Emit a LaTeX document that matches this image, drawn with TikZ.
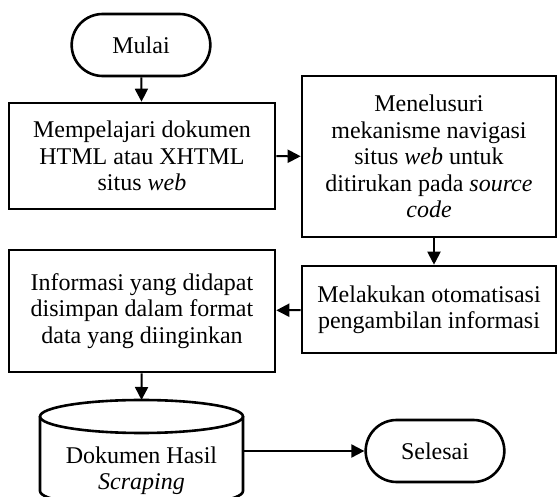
\documentclass[tikz,border=0pt]{standalone}
\usepackage{fontspec}
\setmainfont{Liberation Serif}
\usetikzlibrary{arrows.meta, shapes.geometric, shapes.misc, positioning}

\begin{document}
\begin{tikzpicture}[x=0.5pt, y=-0.5pt, >={Triangle[length=6.5pt,width=6.5pt]},
  every node/.style={font=\fontsize{12}{13.2}\selectfont},
  proc/.style={draw, line width=1.3pt, align=center, inner sep=2pt},
  term/.style={draw, rounded rectangle, line width=1.3pt, minimum width=76pt, minimum height=31pt},
  flow/.style={->, line width=1pt}]
\useasboundingbox (0,0) rectangle (558,497);
\node[term] (mulai) at (141,45) {Mulai};
\node[proc, minimum width=133pt, minimum height=53pt] (pelajari) at (142,156)
  {Mempelajari dokumen\\HTML atau XHTML\\situs \textit{web}};
\node[proc, minimum width=127pt, minimum height=80.5pt] (telusuri) at (429,156.5)
  {Menelusuri\\mekanisme navigasi\\situs \textit{web} untuk\\ditirukan pada \textit{source}\\\textit{code}};
\node[proc, minimum width=127pt, minimum height=43.5pt] (otomasi) at (429,309.5)
  {Melakukan otomatisasi\\pengambilan informasi};
\node[proc, minimum width=133pt, minimum height=61pt] (simpan) at (142,311)
  {Informasi yang didapat\\disimpan dalam format\\data yang diinginkan};
% tabung penyimpanan
\draw[line width=1.3pt] (141.5,416.5) ellipse[x radius=50.75pt, y radius=8.25pt];
\draw[line width=1.3pt] (40,416.5) -- (40,491)
  arc[start angle=180, end angle=360, x radius=50.75pt, y radius=8.25pt] -- (243,416.5);
\coordinate (hasilatas) at (141.5,400);
\coordinate (hasilkanan) at (243,451);
\node[align=center] (hasil) at (141.5,471) {Dokumen Hasil\\\textit{Scraping}};
\node[term] (selesai) at (435,451) {Selesai};

\draw[flow] (mulai) -- (pelajari);
\draw[flow] (pelajari) -- (telusuri);
\draw[flow] ([xshift=2.5pt]telusuri.south) -- ([xshift=2.5pt]otomasi.north);
\draw[flow] (otomasi) -- (simpan);
\draw[flow] (simpan) -- (hasilatas);
\draw[flow] (hasilkanan) -- (selesai.west);
\end{tikzpicture}
\end{document}
